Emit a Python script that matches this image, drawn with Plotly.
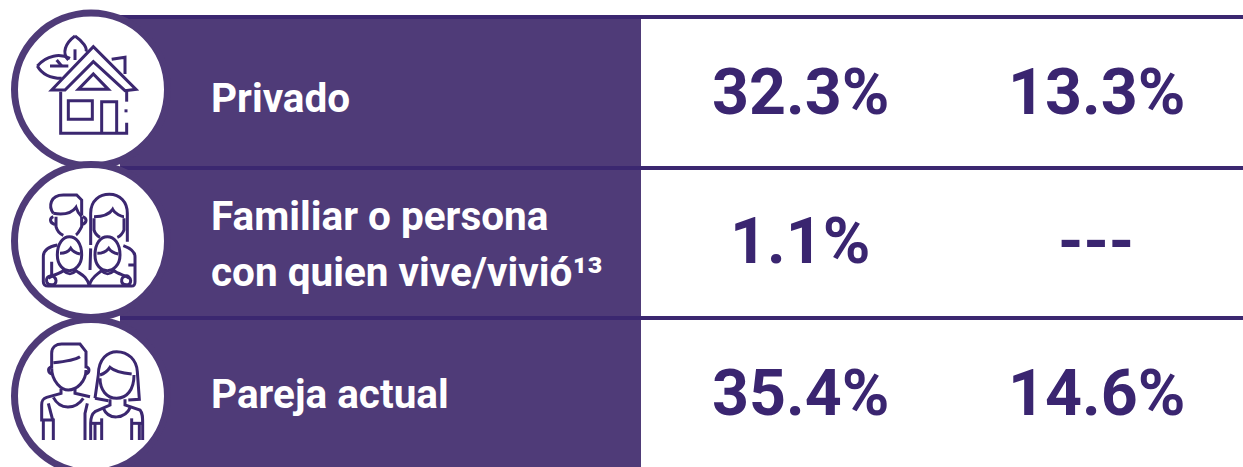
import plotly.graph_objects as go

# ---- data ----
row_labels = [["Privado"], ["Familiar o persona", "con quien vive/vivió¹³"], ["Pareja actual"]]
col_a = ["32.3%", "1.1%", "35.4%"]
col_b = ["13.3%", "---", "14.6%"]

PANEL = "#4f3b78"
LINE = "#3b2770"
INK = "#3a2570"
W, H = 1243, 467

row_mid = [92, 241, 393]
lab_y = [[98], [216, 272], [394]]
line_y = [17, 168, 318]
circle_cy = [89.5, 241, 396]
col_x = [800, 1096]
CX, R_IN, R_OUT = 91, 73, 80

house = [
    "M225 108 C195 130 185 160 205 180",
    "M225 108 C250 125 262 145 258 155",
    "M225 148 L225 180",
    "M112 198 C140 165 180 160 210 175",
    "M112 198 C130 230 165 235 185 235",
    "M150 198 L205 198",
    "M170 180 L185 198",
    "M155 270 L280 140 L408 268 L375 272 L280 185 L195 270 Z",
    "M235 268 L280 222 L325 268 Z",
    "M182 275 L182 400 L380 400 L380 368",
    "M380 272 L380 305",
    "M378 328 L378 337",
    "M205 302 L277 302 L277 358 L205 358 Z",
    "M305 400 L305 305 L350 305 L350 400",
    "M335 178 L375 172 L375 222",
]
family = [
    "M160 190 C145 170 150 135 190 135 L230 135 L245 150 L245 195",
    "M160 190 C190 195 215 190 228 172 C232 185 240 195 245 200",
    "M168 200 L168 230 C172 245 180 252 190 256",
    "M245 200 L245 230 C240 240 235 250 228 255",
    "M160 200 C148 205 148 218 165 224",
    "M248 200 C262 205 262 218 245 224",
    "M272 285 L272 190 C272 150 300 133 328 133 C360 133 382 155 382 190 L382 275",
    "M282 200 C310 200 330 190 338 178 C345 192 365 200 372 200",
    "M282 205 L282 240 C285 250 292 258 300 262",
    "M372 205 L372 240 C368 250 362 258 352 262",
    "M172 315 C172 280 190 260 208 260 C228 260 245 280 245 315 C245 345 225 362 208 362 C190 362 172 345 172 315 Z",
    "M180 310 C195 310 205 305 212 295 C218 305 230 310 240 312",
    "M285 315 C285 280 302 260 322 260 C342 260 360 280 360 315 C360 345 340 362 322 362 C302 362 285 345 285 315 Z",
    "M292 310 C308 310 318 305 326 295 C332 305 345 310 355 312",
    "M172 285 C145 290 130 300 130 320 L130 395 C130 405 135 408 145 408 L395 408 C402 408 405 405 405 395 L405 320 C405 305 392 295 370 287",
    "M145 385 C155 375 180 372 190 362 C205 375 215 375 228 362 C240 372 262 378 268 408",
    "M268 408 C272 380 295 372 304 362 C318 375 328 375 342 362 C352 372 375 375 388 385",
    "M140 395 C135 375 165 370 168 392 C168 408 145 408 140 395 Z",
    "M365 395 C362 375 390 370 392 392 C392 408 368 408 365 395 Z",
    "M270 360 L272 295 M385 345 L405 345 M155 335 L155 375",
]
couple = [
    "M155 175 L155 130 C155 110 170 102 185 102 L240 102 L258 125 L258 175",
    "M160 158 C190 155 225 150 240 140",
    "M155 175 C155 215 185 240 205 240 C230 240 258 215 258 180",
    "M155 170 C140 175 145 190 157 192",
    "M258 170 C272 175 268 190 256 192",
    "M183 236 L183 250 L140 262 C128 266 125 272 125 285 L125 330 L160 330 L160 390",
    "M130 330 L130 390",
    "M145 280 L158 330",
    "M225 236 L225 250 L270 260",
    "M160 262 C180 300 225 300 250 265",
    "M262 280 L255 310 L255 390",
    "M285 265 L295 195 C295 145 325 125 350 125 C385 125 410 150 412 185 L418 268 L385 270",
    "M285 265 L325 272",
    "M300 195 C315 190 325 180 330 172 C345 185 375 190 395 192",
    "M300 205 C300 240 320 265 350 265 C380 265 402 240 402 195",
    "M330 268 L330 285 L285 305 C275 312 272 320 272 340 L272 390",
    "M272 340 L305 340",
    "M305 325 L305 390",
    "M285 340 L285 390",
    "M375 268 L375 285 L420 300 C428 310 428 320 428 340 L428 390",
    "M395 340 L428 340",
    "M395 325 L395 390",
    "M418 340 L418 390",
    "M310 295 C325 330 375 330 392 290",
]
icons = [(house, 0), (family, 150), (couple, 310)]


def to_page(d, dy):
    """Icon outlines were traced in 3x zoom space; convert to page pixels."""
    res, axis = [], 0
    for t in d.replace("M", " M ").replace("L", " L ").replace("C", " C ").replace("Z", " Z ").split():
        if t.isalpha():
            res.append(t)
            axis = 0
        else:
            res.append(f"{float(t) / 3 + (dy if axis else 0):.2f}")
            axis = 1 - axis
    return " ".join(res)


shapes = [
    dict(type="rect", x0=120, x1=641, y0=17, y1=H, fillcolor=PANEL, line_width=0, layer="below"),
]
for y in line_y:
    shapes.append(dict(type="line", x0=120, x1=W, y0=y, y1=y, line=dict(color=LINE, width=4)))
for cy in circle_cy:
    rm = (R_IN + R_OUT) / 2
    shapes.append(dict(type="circle", x0=CX - rm, x1=CX + rm, y0=cy - rm, y1=cy + rm,
                       fillcolor="white", line=dict(color=PANEL, width=R_OUT - R_IN)))
for paths, dy in icons:
    for d in paths:
        shapes.append(dict(type="path", path=to_page(d, dy), line=dict(color=LINE, width=3)))

anns = []
for i, lines in enumerate(row_labels):
    for line, y in zip(lines, lab_y[i]):
        anns.append(dict(x=209, y=y, text=line, xanchor="left", yanchor="middle", showarrow=False,
                         font=dict(family="Roboto", size=40.5, color="white", weight="bold")))
    for xc, vals in zip(col_x, (col_a, col_b)):
        anns.append(dict(x=xc, y=row_mid[i], text=vals[i], xanchor="center", yanchor="middle",
                         showarrow=False,
                         font=dict(family="Roboto", size=64.5, color=INK, weight="bold")))

fig = go.Figure()
fig.update_layout(
    width=W, height=H, margin=dict(l=0, r=0, t=0, b=0),
    paper_bgcolor="white", plot_bgcolor="white", showlegend=False,
    xaxis=dict(range=[0, W], visible=False, fixedrange=True),
    yaxis=dict(range=[H, 0], visible=False, fixedrange=True),
    shapes=shapes, annotations=anns,
)
fig.write_html("out.html", config=dict(displayModeBar=False),
               post_script="document.body.style.margin='0';document.body.style.overflow='hidden';")
